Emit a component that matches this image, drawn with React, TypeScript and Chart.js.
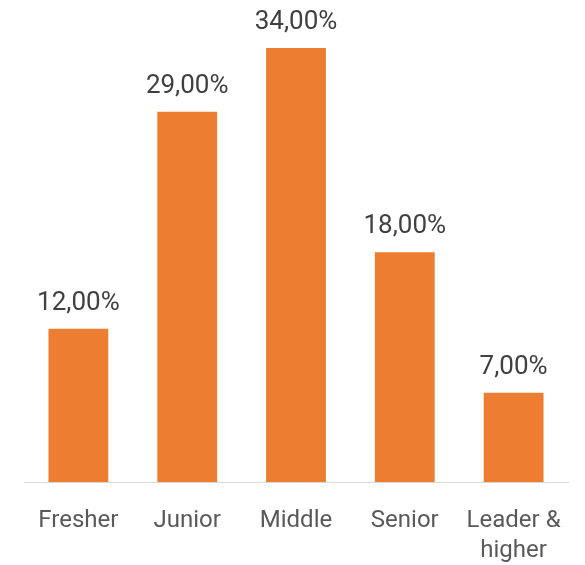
import React, { useEffect, useRef } from "react";
import { Chart, registerables } from "chart.js";

Chart.register(...registerables);

const categories: (string | string[])[] = ["Fresher", "Junior", "Middle", "Senior", ["Leader &", "higher"]];
const values: number[] = [12, 29, 34, 18, 7];
const seriesName = "Share";

const fmt = (v: number) => v.toFixed(2).replace(".", ",") + "%";

const labelPlugin = {
  id: "barLabels",
  afterDatasetsDraw(chart: any) {
    const ctx = chart.ctx;
    const meta = chart.getDatasetMeta(0);
    ctx.save();
    ctx.font = "26px Roboto";
    ctx.fillStyle = "#404040";
    ctx.textAlign = "center";
    ctx.textBaseline = "alphabetic";
    meta.data.forEach((bar: any, i: number) => {
      ctx.fillText(fmt(values[i]), bar.x, bar.y - 19);
    });
    ctx.restore();
  },
};

export default function App() {
  const ref = useRef<HTMLCanvasElement>(null);
  useEffect(() => {
    if (!ref.current) return;
    const chart = new Chart(ref.current, {
      type: "bar",
      data: {
        labels: categories,
        datasets: [
          {
            label: seriesName,
            data: values,
            backgroundColor: "#ED7D31",
            barPercentage: 0.55,
            categoryPercentage: 1,
          },
        ],
      },
      options: {
        animation: false,
        responsive: false,
        maintainAspectRatio: false,
        layout: { padding: { left: 24, right: 17, top: 48, bottom: 0 } },
        plugins: { legend: { display: false }, tooltip: { enabled: false } },
        scales: {
          x: {
            grid: { display: false },
            border: { display: true, color: "#D9D9D9", width: 1 },
            afterFit(scale: any) {
              scale.height = 83;
            },
            ticks: {
              font: { family: "Roboto", size: 24, lineHeight: 1.25 },
              color: "#595959",
              padding: 16,
              maxRotation: 0,
              autoSkip: false,
            },
          },
          y: {
            display: false,
            min: 0,
            max: 34,
          },
        },
      },
      plugins: [labelPlugin],
    });
    return () => chart.destroy();
  }, []);
  return (
    <div style={{ position: "fixed", left: 0, top: 0, width: 585, height: 565, background: "#fff" }}>
      <canvas ref={ref} width={585} height={565} style={{ display: "block" }} />
    </div>
  );
}
